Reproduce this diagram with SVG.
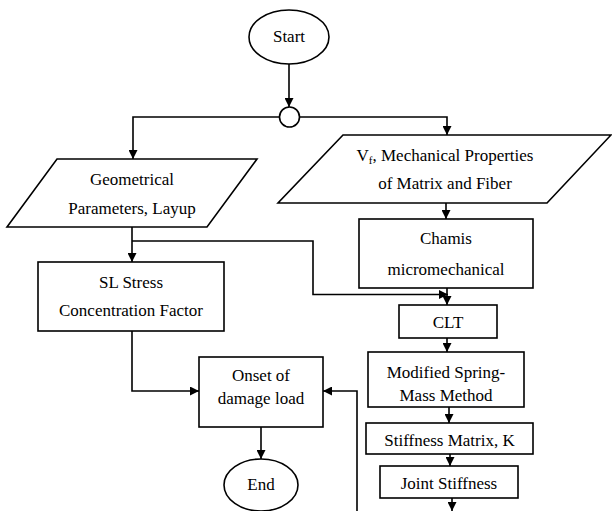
<svg xmlns="http://www.w3.org/2000/svg" width="612" height="511" viewBox="0 0 612 511">
<style>
.s{fill:#fff;stroke:#000;stroke-width:1.6}
.c{fill:none;stroke:#000;stroke-width:1.6}
</style>
<defs>
<marker id="a" viewBox="0 0 10 10" refX="10" refY="5" markerWidth="9" markerHeight="9" markerUnits="userSpaceOnUse" orient="auto">
<path d="M0,0 L10,5 L0,10 z" fill="#000"/>
</marker>
</defs>
<rect width="612" height="511" fill="#fff"/>
<g id="connectors">
<path class="c" d="M289,64 V107" marker-end="url(#a)"/>
<path class="c" d="M279.5,117 H133 V159" marker-end="url(#a)"/>
<path class="c" d="M299.5,117 H447 V135" marker-end="url(#a)"/>
<path class="c" d="M132,227 V262" marker-end="url(#a)"/>
<path class="c" d="M132,241 H313 V294.5 H448" marker-end="url(#a)"/>
<path class="c" d="M446,203 V219" marker-end="url(#a)"/>
<path class="c" d="M447,288 V305" marker-end="url(#a)"/>
<path class="c" d="M447,338 V352" marker-end="url(#a)"/>
<path class="c" d="M449,407 V423" marker-end="url(#a)"/>
<path class="c" d="M450,454 V466" marker-end="url(#a)"/>
<path class="c" d="M452,498 V511" marker-end="url(#a)"/>
<path class="c" d="M132,331 V391 H199" marker-end="url(#a)"/>
<path class="c" d="M357,511 V391 H323" marker-end="url(#a)"/>
<path class="c" d="M261,427 V459" marker-end="url(#a)"/>
</g>
<g id="start">
<ellipse class="s" cx="289" cy="37" rx="40" ry="27"/>
<text x="289" y="42" font-family="Liberation Serif" font-size="17" text-anchor="middle">Start</text>
</g>
<g id="junction">
<circle class="s" cx="289.5" cy="117" r="10"/>
</g>
<g id="geom">
<polygon class="s" points="57,159 257,159 207,227 7,227"/>
<text x="132" y="185" font-family="Liberation Serif" font-size="17" text-anchor="middle">Geometrical</text>
<text x="132" y="214" font-family="Liberation Serif" font-size="17" text-anchor="middle">Parameters, Layup</text>
</g>
<g id="props">
<polygon class="s" points="343,135 611,135 547,203 278,203"/>
<text x="445" y="161" font-family="Liberation Serif" font-size="17" text-anchor="middle">V<tspan font-size="11" dy="3">f</tspan><tspan dy="-3">, Mechanical Properties</tspan></text>
<text x="445" y="189" font-family="Liberation Serif" font-size="17" text-anchor="middle">of Matrix and Fiber</text>
</g>
<g id="sl">
<rect class="s" x="38" y="262" width="186" height="69"/>
<text x="131" y="288" font-family="Liberation Serif" font-size="17" text-anchor="middle">SL Stress</text>
<text x="131" y="316" font-family="Liberation Serif" font-size="17" text-anchor="middle">Concentration Factor</text>
</g>
<g id="chamis">
<rect class="s" x="359" y="219" width="174" height="69"/>
<text x="446" y="244" font-family="Liberation Serif" font-size="17" text-anchor="middle">Chamis</text>
<text x="446" y="275" font-family="Liberation Serif" font-size="17" text-anchor="middle">micromechanical</text>
</g>
<g id="clt">
<rect class="s" x="399" y="305" width="98" height="33"/>
<text x="448" y="328" font-family="Liberation Serif" font-size="17" text-anchor="middle">CLT</text>
</g>
<g id="spring">
<rect class="s" x="368" y="352" width="156" height="55"/>
<text x="446" y="378" font-family="Liberation Serif" font-size="17" text-anchor="middle">Modified Spring-</text>
<text x="446" y="401" font-family="Liberation Serif" font-size="17" text-anchor="middle">Mass Method</text>
</g>
<g id="stiff">
<rect class="s" x="366" y="423" width="167" height="31"/>
<text x="449.5" y="446" font-family="Liberation Serif" font-size="17" text-anchor="middle">Stiffness Matrix, K</text>
</g>
<g id="joint">
<rect class="s" x="380" y="466" width="138" height="32"/>
<text x="449" y="489" font-family="Liberation Serif" font-size="17" text-anchor="middle">Joint Stiffness</text>
</g>
<g id="onset">
<rect class="s" x="199" y="357" width="124" height="70"/>
<text x="261" y="381" font-family="Liberation Serif" font-size="17" text-anchor="middle">Onset of</text>
<text x="261" y="404" font-family="Liberation Serif" font-size="17" text-anchor="middle">damage load</text>
</g>
<g id="end">
<ellipse class="s" cx="261" cy="485" rx="37" ry="26"/>
<text x="261" y="490" font-family="Liberation Serif" font-size="17" text-anchor="middle">End</text>
</g>
</svg>
